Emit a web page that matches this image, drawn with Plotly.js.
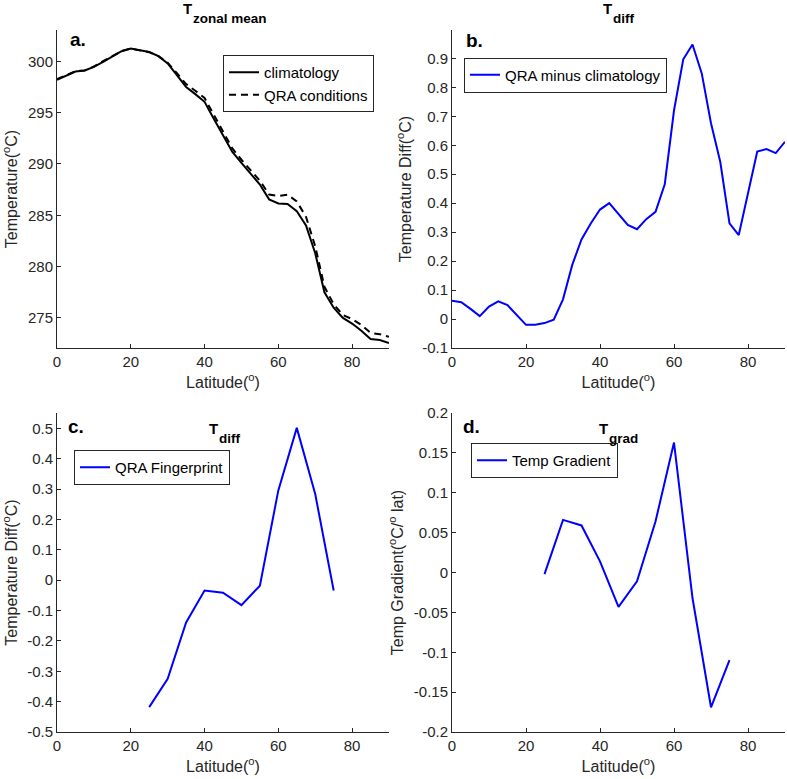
<!DOCTYPE html>
<html>
<head>
<meta charset="utf-8">
<script src="https://cdn.plot.ly/plotly-3.0.1.min.js"></script>
<style>html,body{margin:0;padding:0;background:#fff;}#chart{width:787px;height:779px;}</style>
</head>
<body>
<div id="chart"></div>
<script>
// ---- data ----
const latFull = [0,2.5,5,7.5,10,12.5,15,17.5,20,22.5,25,27.5,30,32.5,35,37.5,40,42.5,45,47.5,50,52.5,55,57.5,60,62.5,65,67.5,70,72.5,75,77.5,80,82.5,85,87.5,90];
const climatology = [298.2,298.6,299.0,299.1,299.45,299.95,300.45,300.98,301.25,301.1,300.9,300.5,299.8,298.65,297.5,296.8,296.05,294.4,292.75,291.2,290.1,289.0,288.0,286.55,286.15,286.1,285.4,284.0,281.3,277.5,276.0,275.0,274.45,273.75,272.95,272.85,272.55];
const qraConditions = [298.26,298.66,299.04,299.11,299.49,300.01,300.5,301.0,301.23,301.08,300.89,300.5,299.87,298.84,297.78,297.13,296.43,294.8,293.11,291.53,290.41,289.35,288.37,287.02,286.87,287.0,286.35,284.85,281.98,278.04,276.33,275.29,274.88,274.33,273.54,273.42,273.16];
const qraMinusClim = [0.063,0.058,0.035,0.010,0.043,0.061,0.048,0.015,-0.020,-0.020,-0.014,-0.002,0.068,0.187,0.275,0.330,0.378,0.400,0.363,0.325,0.310,0.345,0.370,0.465,0.720,0.897,0.948,0.848,0.676,0.543,0.330,0.290,0.434,0.578,0.587,0.573,0.612];
const latCoarse = [25,30,35,40,45,50,55,60,65,70,75];
const qraFingerprint = [-0.418,-0.325,-0.139,-0.034,-0.041,-0.082,-0.018,0.296,0.502,0.284,-0.034];
const tempGradient = [-0.002,0.066,0.059,0.014,-0.043,-0.011,0.064,0.163,-0.032,-0.169,-0.110];

const xTicks = [0,20,40,60,80];
const xTickText = ['0','20','40','60','80'];
const yTicksA = [275,280,285,290,295,300];
const yTickTextA = ['275','280','285','290','295','300'];
const yTicksB = [-0.1,0,0.1,0.2,0.3,0.4,0.5,0.6,0.7,0.8,0.9];
const yTickTextB = ['-0.1','0','0.1','0.2','0.3','0.4','0.5','0.6','0.7','0.8','0.9'];
const yTicksC = [-0.5,-0.4,-0.3,-0.2,-0.1,0,0.1,0.2,0.3,0.4,0.5];
const yTickTextC = ['-0.5','-0.4','-0.3','-0.2','-0.1','0','0.1','0.2','0.3','0.4','0.5'];
const yTicksD = [-0.2,-0.15,-0.1,-0.05,0,0.05,0.1,0.15,0.2];
const yTickTextD = ['-0.2','-0.15','-0.1','-0.05','0','0.05','0.1','0.15','0.2'];

// ---- layout helpers ----
const W = 787, H = 779;
const px = v => v / W;
const py = v => 1 - v / H;
const FONT = 'Liberation Sans, Arial, Helvetica, sans-serif';
const AX = '#262626';

function xaxis(domain, anchor) {
  return {
    domain: domain, anchor: anchor, range: [0, 90],
    tickvals: xTicks, ticktext: xTickText,
    ticks: 'inside', ticklen: 4, tickcolor: AX, tickwidth: 1,
    showline: true, linecolor: AX, linewidth: 1, mirror: false,
    showgrid: false, zeroline: false,
    tickfont: {family: FONT, size: 15, color: AX},
    title: {text: 'Latitude(<sup>o</sup>)', font: {family: FONT, size: 16, color: AX}, standoff: 7}
  };
}
function yaxis(domain, anchor, range, tv, tt, title) {
  return {
    domain: domain, anchor: anchor, range: range,
    tickvals: tv, ticktext: tt,
    ticks: 'inside', ticklen: 4, tickcolor: AX, tickwidth: 1,
    showline: true, linecolor: AX, linewidth: 1, mirror: false,
    showgrid: false, zeroline: false,
    tickfont: {family: FONT, size: 15, color: AX},
    title: {text: title, font: {family: FONT, size: 16, color: AX}, standoff: 6}
  };
}

const xdL = [px(57), px(389)], xdR = [px(452), px(785)];
const ydT = [py(348), py(30)], ydB = [py(732), py(413)];

const traces = [
  {x: latFull, y: climatology, xaxis: 'x', yaxis: 'y', type: 'scatter', mode: 'lines',
   name: 'climatology', line: {color: '#000000', width: 2}, legend: 'legend'},
  {x: latFull, y: qraConditions, xaxis: 'x', yaxis: 'y', type: 'scatter', mode: 'lines',
   name: 'QRA conditions', line: {color: '#000000', width: 2, dash: '7px,5px'}, legend: 'legend'},
  {x: latFull, y: qraMinusClim, xaxis: 'x2', yaxis: 'y2', type: 'scatter', mode: 'lines',
   name: 'QRA minus climatology', line: {color: '#0000ff', width: 2}, legend: 'legend2'},
  {x: latCoarse, y: qraFingerprint, xaxis: 'x3', yaxis: 'y3', type: 'scatter', mode: 'lines',
   name: 'QRA Fingerprint', line: {color: '#0000ff', width: 2}, legend: 'legend3'},
  {x: latCoarse, y: tempGradient, xaxis: 'x4', yaxis: 'y4', type: 'scatter', mode: 'lines',
   name: 'Temp Gradient', line: {color: '#0000ff', width: 2}, legend: 'legend4'}
];

function legendAt(x, y) {
  return {x: px(x), y: py(y), xanchor: 'left', yanchor: 'top', xref: 'paper', yref: 'paper',
    bgcolor: '#ffffff', bordercolor: AX, borderwidth: 1,
    font: {family: FONT, size: 15, color: '#000000'}, tracegroupgap: 0, itemwidth: 30};
}

// text annotation placed by its baseline (converted to a middle anchor)
function ann(text, x, baseline, size, anchorX) {
  const mid = baseline - 0.35 * size;
  return {text: text, x: px(x), y: py(mid), xref: 'paper', yref: 'paper', showarrow: false,
    xanchor: anchorX || 'left', yanchor: 'middle', font: {family: FONT, size: size, color: '#000000'}};
}

const layout = {
  width: W, height: H,
  margin: {l: 0, r: 0, t: 0, b: 0},
  paper_bgcolor: '#ffffff', plot_bgcolor: '#ffffff',
  showlegend: true,
  xaxis: xaxis(xdL, 'y'),
  yaxis: yaxis(ydT, 'x', [272.07, 303.05], yTicksA, yTickTextA, 'Temperature(<sup>o</sup>C)'),
  xaxis2: xaxis(xdR, 'y2'),
  yaxis2: yaxis(ydT, 'x2', [-0.1, 0.998], yTicksB, yTickTextB, 'Temperature Diff(<sup>o</sup>C)'),
  xaxis3: xaxis(xdL, 'y3'),
  yaxis3: yaxis(ydB, 'x3', [-0.5, 0.551], yTicksC, yTickTextC, 'Temperature Diff(<sup>o</sup>C)'),
  xaxis4: xaxis(xdR, 'y4'),
  yaxis4: yaxis(ydB, 'x4', [-0.2, 0.2], yTicksD, yTickTextD, 'Temp Gradient(<sup>o</sup>C/<sup>o</sup> lat)'),
  legend: legendAt(223, 55),
  legend2: legendAt(464, 57.5),
  legend3: legendAt(74, 450),
  legend4: legendAt(471, 443),
  annotations: [
    // panel titles: "T" with a bold subscript
    ann('<b>T</b>', 181, 13.5, 15),
    ann('<b>zonal mean</b>', 191, 23.5, 13.5),
    ann('<b>T</b>', 601, 13.5, 15),
    ann('<b>diff</b>', 611, 23, 13.5),
    ann('<b>T</b>', 207, 433.5, 15),
    ann('<b>diff</b>', 217, 443, 13.5),
    ann('<b>T</b>', 597, 433.5, 15),
    ann('<b>grad</b>', 607, 443, 13.5),
    // panel letters
    ann('<b>a.</b>', 68, 46, 19),
    ann('<b>b.</b>', 464, 47, 19),
    ann('<b>c.</b>', 66, 433, 19),
    ann('<b>d.</b>', 461, 433, 19)
  ]
};

Plotly.newPlot('chart', traces, layout, {staticPlot: true, displayModeBar: false});
</script>
</body>
</html>
